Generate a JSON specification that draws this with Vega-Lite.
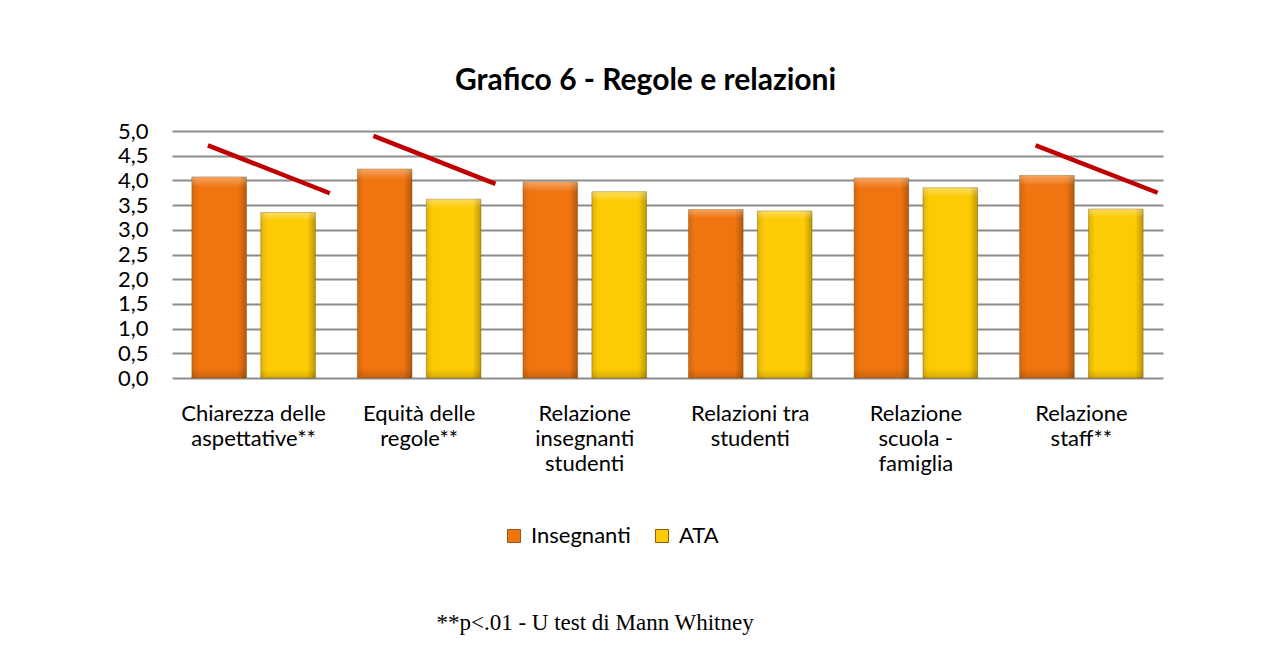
{
  "$schema": "https://vega.github.io/schema/vega-lite/v6.json",
  "background": "white",
  "padding": {"left": 117, "top": 66, "right": 100, "bottom": 6},
  "title": {"text": "**p<.01 - U test di Mann Whitney", "orient": "bottom", "font": "Liberation Serif", "fontSize": 23, "fontWeight": "normal", "color": "black", "offset": 65, "anchor": "middle", "dx": -47},
  "datasets": {
    "medie": [
      {"categoria": "Chiarezza delle\naspettative**", "gruppo": "Insegnanti", "media": 4.07},
      {"categoria": "Chiarezza delle\naspettative**", "gruppo": "ATA", "media": 3.35},
      {"categoria": "Equità delle\nregole**", "gruppo": "Insegnanti", "media": 4.23},
      {"categoria": "Equità delle\nregole**", "gruppo": "ATA", "media": 3.62},
      {"categoria": "Relazione\ninsegnanti\nstudenti", "gruppo": "Insegnanti", "media": 3.97},
      {"categoria": "Relazione\ninsegnanti\nstudenti", "gruppo": "ATA", "media": 3.77},
      {"categoria": "Relazioni tra\nstudenti", "gruppo": "Insegnanti", "media": 3.41},
      {"categoria": "Relazioni tra\nstudenti", "gruppo": "ATA", "media": 3.38},
      {"categoria": "Relazione\nscuola -\nfamiglia", "gruppo": "Insegnanti", "media": 4.05},
      {"categoria": "Relazione\nscuola -\nfamiglia", "gruppo": "ATA", "media": 3.85},
      {"categoria": "Relazione\nstaff**", "gruppo": "Insegnanti", "media": 4.10},
      {"categoria": "Relazione\nstaff**", "gruppo": "ATA", "media": 3.42}
    ],
    "linee": [
      {"categoria": "Chiarezza delle\naspettative**", "estremo": "inizio", "valore": 4.71},
      {"categoria": "Chiarezza delle\naspettative**", "estremo": "fine", "valore": 3.74},
      {"categoria": "Equità delle\nregole**", "estremo": "inizio", "valore": 4.90},
      {"categoria": "Equità delle\nregole**", "estremo": "fine", "valore": 3.93},
      {"categoria": "Relazione\nstaff**", "estremo": "inizio", "valore": 4.71},
      {"categoria": "Relazione\nstaff**", "estremo": "fine", "valore": 3.75}
    ]
  },
  "config": {
    "font": "Lato",
    "view": {"stroke": null},
    "axis": {"labelFont": "Lato", "labelColor": "black", "domain": false, "ticks": false, "title": null, "labelOverlap": false},
    "legend": {"labelFont": "Lato", "labelColor": "black", "layout": {"bottom": {"anchor": "middle"}}}
  },
  "vconcat": [
    {
      "title": {"text": "Grafico 6 - Regole e relazioni", "font": "Lato", "fontSize": 30, "fontWeight": "bold", "color": "black", "offset": 24, "anchor": "middle", "dx": -22},
      "width": 991,
      "height": 247,
      "resolve": {"scale": {"xOffset": "independent"}},
      "layer": [
        {
          "data": {"name": "medie"},
          "mark": {"type": "bar", "stroke": "#8a5a10", "strokeOpacity": 0.45, "strokeWidth": 1},
          "encoding": {
            "x": {"field": "categoria", "type": "nominal",
              "scale": {"domain": ["Chiarezza delle\naspettative**", "Equità delle\nregole**", "Relazione\ninsegnanti\nstudenti", "Relazioni tra\nstudenti", "Relazione\nscuola -\nfamiglia", "Relazione\nstaff**"], "paddingInner": 0.254, "paddingOuter": 0.12},
              "axis": {"labelExpr": "split(datum.label, '\\n')", "labelFontSize": 22, "labelLineHeight": 25, "labelPadding": 25, "labelAngle": 0, "grid": false, "labelBaseline": "top"}},
            "xOffset": {"field": "gruppo", "type": "nominal", "scale": {"domain": ["Insegnanti", "ATA"], "paddingInner": 0.208, "paddingOuter": 0}},
            "y": {"field": "media", "type": "quantitative",
              "scale": {"domain": [0, 5], "nice": false},
              "axis": {"values": [0, 0.5, 1, 1.5, 2, 2.5, 3, 3.5, 4, 4.5, 5], "labelExpr": "replace(format(datum.value, '.1f'), '.', ',')", "labelFontSize": 22, "labelPadding": 24, "grid": true, "gridColor": "#8c8c8c", "gridWidth": 2}},
            "color": {"field": "gruppo", "type": "nominal",
              "scale": {"domain": ["Insegnanti", "ATA"], "range": ["#F07511", "#FDCB05"]},
              "legend": {"orient": "bottom", "direction": "horizontal", "title": " ", "titleOrient": "right", "titlePadding": 113, "titleFontSize": 10, "symbolType": "square", "symbolSize": 170, "symbolStrokeColor": "#8a5a10", "symbolStrokeWidth": 1, "labelFontSize": 22, "columnPadding": 20, "labelOffset": 6, "offset": 51}}
          }
        },
        {
          "data": {"name": "medie"},
          "mark": {"type": "bar", "fill": {"gradient": "linear", "x1": 0, "y1": 0, "x2": 1, "y2": 0, "stops": [{"offset": 0, "color": "rgba(0,0,0,0.12)"}, {"offset": 0.12, "color": "rgba(0,0,0,0)"}, {"offset": 0.85, "color": "rgba(0,0,0,0)"}, {"offset": 1, "color": "rgba(0,0,0,0.25)"}]}},
          "encoding": {
            "x": {"field": "categoria", "type": "nominal",
              "axis": {"labelExpr": "split(datum.label, '\\n')", "labelFontSize": 22, "labelLineHeight": 25, "labelPadding": 25, "labelAngle": 0, "grid": false, "labelBaseline": "top"}},
            "xOffset": {"field": "gruppo", "type": "nominal", "scale": {"domain": ["Insegnanti", "ATA"], "paddingInner": 0.208, "paddingOuter": 0}},
            "y": {"field": "media", "type": "quantitative",
              "axis": {"values": [0, 0.5, 1, 1.5, 2, 2.5, 3, 3.5, 4, 4.5, 5], "labelExpr": "replace(format(datum.value, '.1f'), '.', ',')", "labelFontSize": 22, "labelPadding": 24, "grid": true, "gridColor": "#8c8c8c", "gridWidth": 2}}
          }
        },
        {
          "data": {"name": "medie"},
          "mark": {"type": "bar", "fill": {"gradient": "linear", "x1": 0, "y1": 0, "x2": 0, "y2": 1, "stops": [{"offset": 0, "color": "rgba(255,255,255,0.35)"}, {"offset": 0.05, "color": "rgba(255,255,255,0)"}, {"offset": 0.95, "color": "rgba(0,0,0,0)"}, {"offset": 1, "color": "rgba(0,0,0,0.15)"}]}},
          "encoding": {
            "x": {"field": "categoria", "type": "nominal",
              "axis": {"labelExpr": "split(datum.label, '\\n')", "labelFontSize": 22, "labelLineHeight": 25, "labelPadding": 25, "labelAngle": 0, "grid": false, "labelBaseline": "top"}},
            "xOffset": {"field": "gruppo", "type": "nominal", "scale": {"domain": ["Insegnanti", "ATA"], "paddingInner": 0.208, "paddingOuter": 0}},
            "y": {"field": "media", "type": "quantitative",
              "axis": {"values": [0, 0.5, 1, 1.5, 2, 2.5, 3, 3.5, 4, 4.5, 5], "labelExpr": "replace(format(datum.value, '.1f'), '.', ',')", "labelFontSize": 22, "labelPadding": 24, "grid": true, "gridColor": "#8c8c8c", "gridWidth": 2}}
          }
        },
        {
          "data": {"name": "linee"},
          "mark": {"type": "line", "color": "#C00000", "strokeWidth": 4.5},
          "encoding": {
            "x": {"field": "categoria", "type": "nominal",
              "axis": {"labelExpr": "split(datum.label, '\\n')", "labelFontSize": 22, "labelLineHeight": 25, "labelPadding": 25, "labelAngle": 0, "grid": false, "labelBaseline": "top"}},
            "xOffset": {"field": "estremo", "type": "nominal", "scale": {"type": "point", "domain": ["inizio", "fine"], "range": [16, 138], "padding": 0}},
            "y": {"field": "valore", "type": "quantitative",
              "axis": {"values": [0, 0.5, 1, 1.5, 2, 2.5, 3, 3.5, 4, 4.5, 5], "labelExpr": "replace(format(datum.value, '.1f'), '.', ',')", "labelFontSize": 22, "labelPadding": 24, "grid": true, "gridColor": "#8c8c8c", "gridWidth": 2}},
            "detail": {"field": "categoria"}
          }
        }
      ]
    }
  ]
}
